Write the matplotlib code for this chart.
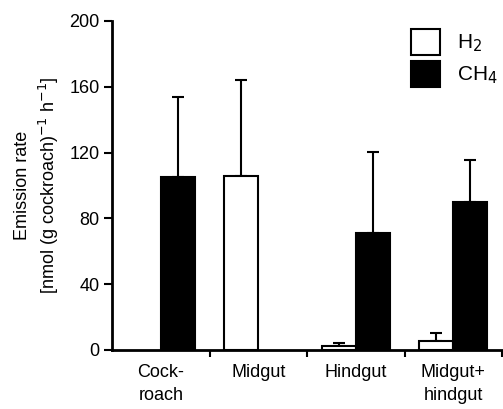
import numpy as np
import matplotlib.pyplot as plt

plt.rcParams['font.family'] = ['Liberation Sans', 'DejaVu Sans']

categories = ["Cock-\nroach", "Midgut", "Hindgut", "Midgut+\nhindgut"]
h2 = [np.nan, 105.5, 2.4, 5.7]
h2_err = [np.nan, 58.5, 2.0, 4.4]
ch4 = [105.2, np.nan, 71.0, 90.0]
ch4_err = [48.5, np.nan, 49.6, 25.5]

x = np.arange(len(categories))
w = 0.35

fig = plt.figure(figsize=(5.03, 4.09), dpi=100)
ax = fig.add_axes([0.2227, 0.1443, 0.7753, 0.8044])

ax.bar(x, h2, width=-w, align='edge', color='white', edgecolor='black',
       linewidth=1.5, label="H$_2$", zorder=2)
ax.bar(x, ch4, width=w, align='edge', color='black', edgecolor='black',
       linewidth=1.5, label="CH$_4$", zorder=2)

zeros = np.zeros(len(categories))
ax.errorbar(x - w / 2, h2, yerr=[zeros, h2_err], fmt='none', ecolor='black',
            elinewidth=1.5, capsize=4.3, capthick=1.5, zorder=1)
ax.errorbar(x + w / 2, ch4, yerr=[zeros, ch4_err], fmt='none', ecolor='black',
            elinewidth=1.5, capsize=4.3, capthick=1.5, zorder=1)

ax.set_xlim(-0.5, 3.5)
ax.set_ylim(0, 200)
ax.set_yticks([0, 40, 80, 120, 160, 200])
ax.set_xticks([0.5, 1.5, 2.5, 3.5])
ax.set_xticklabels([])
ax.set_xticks(x, minor=True)
ax.set_xticklabels(categories, minor=True, fontsize=13, linespacing=1.45)
ax.tick_params(axis='x', which='minor', length=0, pad=10)
ax.tick_params(axis='x', which='major', length=5, width=1.5, direction='out')
ax.tick_params(axis='y', length=6, width=1.5, labelsize=13, pad=3)

for s in ['top', 'right']:
    ax.spines[s].set_visible(False)
for s in ['left', 'bottom']:
    ax.spines[s].set_linewidth(2)

ax.set_ylabel("Emission rate\n[nmol (g cockroach)$^{-1}$ h$^{-1}$]",
              fontsize=13, labelpad=6, linespacing=1.3)

ax.legend(loc='upper left', bbox_to_anchor=(0.735, 1.015), frameon=False,
          fontsize=15, handlelength=1.4, handleheight=1.55,
          handletextpad=0.8, labelspacing=0.3, borderpad=0.1)

fig.savefig("out.png", dpi=100)
